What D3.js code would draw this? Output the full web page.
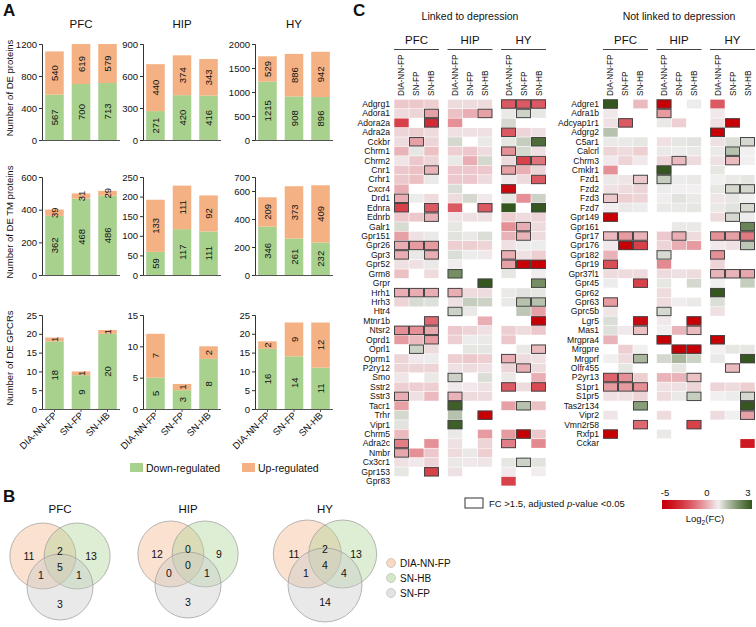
<!DOCTYPE html>
<html>
<head>
<meta charset="utf-8">
<script src="https://cdn.jsdelivr.net/npm/d3@7"></script>
<style>
  body { margin: 0; background: #fff; }
  text { font-family: Arial, "Liberation Sans", sans-serif; fill: #111; }
</style>
</head>
<body>
<svg id="fig" width="756" height="627"></svg>
<script>
// ---------- data: panel A ----------
var regions = ["PFC", "HIP", "HY"];
var methods = ["DIA-NN-FP", "SN-FP", "SN-HB"];
var rowTitles = ["Number of DE proteins", "Number of DE TM proteins", "Number of DE GPCRs"];

var protDown = [[567, 700, 713], [271, 420, 416], [1215, 908, 896]];
var protUp   = [[540, 619, 579], [440, 374, 343], [529, 886, 942]];
var tmDown   = [[362, 468, 486], [59, 117, 111], [346, 261, 232]];
var tmUp     = [[39, 31, 29], [133, 111, 92], [209, 373, 409]];
var gpcrDown = [[18, 9, 20], [5, 3, 8], [16, 14, 11]];
var gpcrUp   = [[1, 1, 1], [7, 1, 2], [2, 9, 12]];

var protTicks = [[0, 400, 800, 1200], [0, 300, 600, 900], [0, 500, 1000, 1500, 2000]];
var tmTicks   = [[0, 200, 400, 600], [0, 50, 100, 150, 200, 250], [0, 200, 400, 600, 700]];
var gpcrTicks = [[0, 5, 10, 15, 20, 25], [0, 5, 10, 15], [0, 5, 10, 15, 20, 25]];

// ---------- data: panel B (venn counts) ----------
// order: only A, A&B, only B, A&C, A&B&C, B&C, only C   (A=DIA-NN-FP, B=SN-HB, C=SN-FP)
var vennPFC = [11, 2, 13, 1, 5, 1, 3];
var vennHIP = [12, 0, 9, 0, 0, 1, 3];
var vennHY  = [11, 2, 13, 1, 4, 4, 14];
var vennSets = ["DIA-NN-FP", "SN-HB", "SN-FP"];

// ---------- data: panel C ----------
var linkedGenes = ["Adgrg1","Adora1","Adora2a","Adra2a","Cckbr","Chrm1","Chrm2","Cnr1","Crhr1","Cxcr4",
  "Drd1","Ednra","Ednrb","Galr1","Gpr151","Gpr26","Gpr3","Gpr52","Grm8","Grpr","Hrh1","Hrh3","Htr4",
  "Mtnr1b","Ntsr2","Oprd1","Oprl1","Oprm1","P2ry12","Smo","Sstr2","Sstr3","Tacr1","Trhr","Vipr1",
  "Chrm5","Adra2c","Nmbr","Cx3cr1","Gpr153","Gpr83"];
var linkedFC = [
  [-0.6,-0.6,-0.5, -0.3,-0.3,-0.3, -2.5,-2.5,-2.5],
  [-0.3,-0.4,-1.2, -0.7,-1.0,-1.2, 0.1,0.5,0.15],
  [-3,null,-3.5, -1.5,null,null, 0.4,null,null],
  [-0.4,-0.5,-0.3, -0.2,-0.2,-0.2, -2.5,-0.4,-0.2],
  [-0.3,-1.2,-0.4, 0.4,null,0.1, 0.15,0.6,2.5],
  [-0.9,0.15,-0.7, -0.5,-0.6,-0.3, -1.5,0.4,-0.2],
  [-0.15,-0.6,-0.4, 0.1,-1.0,0.4, -0.3,-3,-2],
  [-0.6,-0.7,-0.9, -0.6,-0.6,-0.6, -1.2,-1.0,-0.4],
  [-0.6,-0.7,0.1, -0.6,-0.6,-0.3, -0.1,-0.3,-2.5],
  [-1.0,null,null, 0.3,null,null, -4.5,null,null],
  [-1.0,0.05,-0.3, -0.3,0.4,-0.1, 0.15,-1.5,0.5],
  [-3,null,-2.5, -2.5,null,-2.5, 3,null,3],
  [-0.6,-0.6,-0.9, -0.15,-0.2,-0.2, -0.5,-0.3,-0.4],
  [0.35,null,null, 0.15,null,null, -1.5,-1.0,-0.3],
  [-1.2,-0.2,0.1, 0.2,0.1,0.3, -0.9,-0.9,-0.3],
  [-1.0,-1.3,-1.3, -0.5,-0.5,-0.4, -0.2,0.05,0.05],
  [-1.0,0.1,-1.0, 0.3,0.05,-0.1, -1.0,-0.2,-0.5],
  [-0.2,-0.2,0.1, -0.05,null,null, -1.2,-5,-5],
  [-0.7,null,-0.3, 1.8,null,null, 0.15,null,-0.05],
  [null,null,null, null,null,3, null,null,1.8],
  [-1.0,-1.0,-1.0, -1.0,-0.3,-0.3, 0.1,0.2,0.15],
  [-0.4,0.35,0.25, -0.2,0.6,0.5, 0.1,0.8,0.8],
  [null,null,null, 0.5,0.1,null, null,0.7,-1.2],
  [null,null,-2.2, null,null,-1.0, null,null,-5],
  [-1.5,-1.5,-1.1, -0.6,-0.4,-0.2, -0.5,-0.3,-0.6],
  [-1.3,-0.8,-1.3, -0.5,0.05,0.1, -0.6,null,null],
  [null,0.5,-0.3, null,0.15,0.15, null,0.1,-0.8],
  [-0.4,-0.1,0.05, -0.5,-0.6,-0.5, -1.0,-0.3,-0.2],
  [-0.4,-0.4,-0.4, -0.2,-0.3,-0.2, -0.4,-1.0,-0.3],
  [-0.15,null,0.1, 0.5,null,0.3, 0.1,null,-1.0],
  [-0.5,-0.5,-0.5, -0.1,-0.1,-0.2, -2.5,-0.3,-2.8],
  [-1.0,-0.2,-0.8, -0.9,-0.3,-0.3, null,null,null],
  [-1.2,null,null, 2.8,null,null, -1.2,0.8,-0.7],
  [0.4,null,null, 0.8,null,-5, null,null,null],
  [0.2,null,null, 2.8,null,null, null,null,null],
  [-0.8,null,null, 0.1,null,-1.3, -1.3,-5,-0.6],
  [-1.8,null,-1.5, -0.2,null,-0.4, -1.8,null,-1.6],
  [-1.1,-1.5,-0.6, -0.3,0.1,-0.5, null,null,null],
  [-0.2,-0.1,-0.4, 0.1,-0.1,-0.15, 0.15,0.5,0.2],
  [0.15,null,-3, -0.2,null,null, -0.1,null,-0.05],
  [null,null,null, null,null,null, -3,null,null]
];
var linkedSig = ["000000111","001001010","001000000","000000100","010000001","000000100","000000011",
  "001000100","000000001","000000100","100000000","101001001","001000000","000000010","000000010",
  "111000000","101000100","000000111","000100000","000001001","111100000","000000011","000100000",
  "001000001","111000000","001000000","010000001","000000100","000000010","000100000","000000101",
  "100100000","000100010","000001000","000100000","000000010","100000100","100000000","000000010",
  "001000000","000000000"];

var otherGenes = ["Adgre1","Adra1b","Adcyap1r1","Adgrg2","C5ar1","Calcrl","Chrm3","Cmklr1","Fzd1","Fzd2",
  "Fzd3","Fzd7","Gpr149","Gpr161","Gpr17","Gpr176","Gpr182","Gpr19","Gpr37l1","Gpr45","Gpr62","Gpr63",
  "Gprc5b","Lgr5","Mas1","Mrgpra4","Mrgpre","Mrgprf","Olfr455","P2yr13","S1pr1","S1pr5","Tas2r134",
  "Vipr2","Vmn2r58","Rxfp1","Cckar"];
var otherFC = [
  [3,null,-0.8, -5,null,0.05, -2.5,null,null],
  [-0.1,null,null, -1.3,null,null, -0.1,null,null],
  [-0.2,-2.5,null, 0.1,-0.5,null, -0.2,-5,null],
  [0.8,null,null, null,null,null, -5,null,null],
  [0.1,0.1,0.15, -0.2,0.15,0.2, -0.2,0.3,0.4],
  [-0.4,-0.3,-0.5, 0.1,0.05,0.1, 0.1,0.8,0],
  [-0.1,-0.4,-0.1, -0.4,-0.8,-0.3, -0.2,-0.8,0],
  [-1.5,null,null, 3,null,null, 0.15,null,null],
  [0.1,-0.15,-0.6, 0.6,0.05,0.1, 0,0.1,0.15],
  [-0.2,-0.3,-0.4, 0.05,0,0, 0.15,0.4,0.4],
  [-0.6,-0.5,-0.4, -0.05,0.2,0.1, -0.15,0.15,0],
  [0,0.1,0.05, 0.1,0.1,0.15, 0.1,0.2,0.35],
  [-5,null,null, null,null,null, -0.3,0.4,0.05],
  [null,null,null, null,0.1,0.1, null,null,2],
  [-0.8,-1.3,-0.9, -0.6,-1.0,-0.3, -1.5,-1.2,-1.9],
  [-0.1,-5,-3, -0.4,-1.0,-1.3, -0.1,-0.2,0.7],
  [-0.9,null,null, 0.35,null,null, -1.5,null,null],
  [-2.7,null,null, -1.6,null,null, -0.4,null,null],
  [-0.3,-0.3,-0.3, -0.3,-0.2,-0.3, -0.9,-0.9,-1.1],
  [0.05,null,-3, 0.15,null,0.4, 0,null,0.6],
  [null,null,null, -0.3,null,null, 3,null,null],
  [-1.3,null,null, -0.3,-0.05,0.1, 0.3,null,null],
  [-0.15,null,null, 0.4,null,null, -0.2,null,null],
  [0.3,null,-4.5, -0.1,null,-5, null,null,null],
  [0.25,-0.1,-0.7, 0,-0.9,-0.8, null,null,null],
  [-0.9,null,null, -5,null,null, -5,null,null],
  [null,-0.5,0, null,-5,-5, 0,0.15,0.15],
  [0,-0.3,1.0, 0.4,1.0,0.5, 0.1,null,3],
  [null,0.15,null, null,0.15,null, null,-0.8,null],
  [-2.3,-1.5,-0.5, -0.9,-0.9,-0.7, null,null,null],
  [-1.3,-1.3,-1.5, -0.2,-0.2,-0.4, -0.4,-0.3,-0.5],
  [-0.2,-0.2,-0.4, -0.3,0.1,0.6, 0,0.05,0.4],
  [null,null,1.5, null,null,null, null,null,3],
  [-0.15,null,null, -0.3,null,null, -0.3,0,-1.2],
  [null,null,-2.2, null,null,-3, null,null,null],
  [-5,null,null, 0.1,null,null, null,null,null],
  [null,null,null, null,null,null, null,null,-4]
];
var otherSig = ["100100000","000100000","010000010","000000100","000000001","000000010","000010010",
  "000100000","001100000","000000011","100000000","000000001","100000010","000000001","111010111",
  "011000001","000100100","100000000","000000111","001000000","000000100","100000000","000100000",
  "001001000","001001000","000100100","000011000","001000001","000000010","110001000","111000000",
  "000001001","001000001","000000001","001001000","100000000","000000000"];

var fcTicks = [-5, 0, 3];

// ---------- setup ----------
var svg = d3.select("#fig");
var green = "#a9d18e", orange = "#f4b183";

svg.append("text").attr("x", 3).attr("y", 16).attr("font-size", 17).attr("font-weight", "bold").text("A");
svg.append("text").attr("x", 3).attr("y", 502).attr("font-size", 17).attr("font-weight", "bold").text("B");
svg.append("text").attr("x", 353).attr("y", 16).attr("font-size", 17).attr("font-weight", "bold").text("C");

// ---------- panel A ----------
var rowsY = [[44, 140], [177, 275], [315, 409]];
var colsX = [42, 143, 255];
var downs = [protDown, tmDown, gpcrDown];
var ups = [protUp, tmUp, gpcrUp];
var ticks = [protTicks, tmTicks, gpcrTicks];

regions.forEach(function (r, c) {
    svg.append("text").attr("x", colsX[c] + 39).attr("y", 28)
        .attr("text-anchor", "middle").attr("font-size", 11.5).text(r);
});

for (var ri = 0; ri < 3; ri++) {
    var yr = rowsY[ri];
    svg.append("text")
        .attr("transform", "translate(13," + ((yr[0] + yr[1]) / 2 - 4) + ") rotate(-90)")
        .attr("text-anchor", "middle").attr("font-size", 9.5).text(rowTitles[ri]);
    for (var ci = 0; ci < 3; ci++) {
        var tk = ticks[ri][ci];
        var y = d3.scaleLinear().domain([0, tk[tk.length - 1]]).range([yr[1], yr[0]]).clamp(true);
        var x = d3.scaleBand().domain(methods).range([colsX[ci], colsX[ci] + 78])
            .paddingInner(0.3).paddingOuter(0.12);
        var g = svg.append("g");
        var dn = downs[ri][ci], up = ups[ri][ci];

        g.selectAll("rect.dn").data(methods).enter().append("rect")
            .attr("x", function (d) { return x(d); })
            .attr("width", x.bandwidth())
            .attr("y", function (d, i) { return y(dn[i]); })
            .attr("height", function (d, i) { return y(0) - y(dn[i]); })
            .attr("fill", green);
        g.selectAll("rect.up").data(methods).enter().append("rect")
            .attr("x", function (d) { return x(d); })
            .attr("width", x.bandwidth())
            .attr("y", function (d, i) { return y(dn[i] + up[i]); })
            .attr("height", function (d, i) { return y(dn[i]) - y(dn[i] + up[i]); })
            .attr("fill", orange);

        // value labels
        methods.forEach(function (m, i) {
            var cx = x(m) + x.bandwidth() / 2 + 3.5;
            var yd = (y(0) + y(dn[i])) / 2;
            var yu = (y(dn[i]) + y(dn[i] + up[i])) / 2;
            g.append("text").attr("transform", "translate(" + cx + "," + yd + ") rotate(-90)")
                .attr("text-anchor", "middle").attr("font-size", 9.5).text(dn[i]);
            g.append("text").attr("transform", "translate(" + cx + "," + yu + ") rotate(-90)")
                .attr("text-anchor", "middle").attr("font-size", 9.5).text(up[i]);
        });

        var ya = d3.axisLeft(y).tickValues(tk).tickSize(3).tickPadding(2).tickFormat(d3.format("d"));
        var ag = g.append("g").attr("transform", "translate(" + colsX[ci] + ",0)").call(ya);
        ag.selectAll("text").attr("font-size", 9.5).attr("fill", "#111");
        ag.selectAll("line,path").attr("stroke", "#333");
        g.append("line").attr("x1", colsX[ci]).attr("x2", colsX[ci] + 78)
            .attr("y1", yr[1] + 0.5).attr("y2", yr[1] + 0.5).attr("stroke", "#555");

        if (ri === 2) {
            methods.forEach(function (m) {
                var cx = x(m) + x.bandwidth() / 2;
                g.append("line").attr("x1", cx).attr("x2", cx).attr("y1", yr[1]).attr("y2", yr[1] + 3).attr("stroke", "#555");
                g.append("text").attr("transform", "translate(" + (cx + 3) + "," + (yr[1] + 7) + ") rotate(-45)")
                    .attr("text-anchor", "end").attr("font-size", 9.5).text(m);
            });
        }
    }
}

// legend A
var legA = [["Down-regulated", green, 130], ["Up-regulated", orange, 242]];
legA.forEach(function (l) {
    svg.append("rect").attr("x", l[2]).attr("y", 463).attr("width", 13).attr("height", 9).attr("fill", l[1]);
    svg.append("text").attr("x", l[2] + 16).attr("y", 471.5).attr("font-size", 10.5).text(l[0]);
});

// ---------- panel B ----------
var vennCols = ["#f4b183", "#a9d18e", "#c8c8c8"];
var vennData = [vennPFC, vennHIP, vennHY];
var vennPos = [
    { cx: 60, cy: 568, r: 33, title: "PFC" },
    { cx: 188, cy: 566, r: 33, title: "HIP" },
    { cx: 325, cy: 566, r: 34, title: "HY" }
];
vennPos.forEach(function (p, k) {
    var d = p.r * 0.52;
    var centers = [[p.cx - d, p.cy - 12], [p.cx + d, p.cy - 12], [p.cx, p.cy + 19]];
    var rr = [p.r, p.r, k === 2 ? p.r + 3 : p.r];
    var vg = svg.append("g");
    vg.selectAll("circle").data(centers).enter().append("circle")
        .attr("cx", function (c) { return c[0]; })
        .attr("cy", function (c) { return c[1]; })
        .attr("r", function (c, i) { return rr[i]; })
        .attr("fill", function (c, i) { return vennCols[i]; })
        .attr("fill-opacity", function (c, i) { return i === 2 ? 0.4 : 0.38; })
        .attr("stroke", "#999").attr("stroke-width", 0.7);
    svg.append("text").attr("x", p.cx).attr("y", 513).attr("text-anchor", "middle")
        .attr("font-size", 11.5).text(p.title);
    var v = vennData[k];
    var lp = [[p.cx - 31, p.cy - 12], [p.cx, p.cy - 17], [p.cx + 31, p.cy - 12],
              [p.cx - 19, p.cy + 7], [p.cx, p.cy - 1], [p.cx + 19, p.cy + 7], [p.cx, p.cy + 36]];
    lp.forEach(function (q, i) {
        svg.append("text").attr("x", q[0]).attr("y", q[1] + 4).attr("text-anchor", "middle")
            .attr("font-size", 10.5).text(v[i]);
    });
});
vennSets.forEach(function (s, i) {
    svg.append("circle").attr("cx", 391).attr("cy", 563 + i * 15).attr("r", 4.5)
        .attr("fill", vennCols[i]).attr("fill-opacity", 0.5).attr("stroke", "#aaa").attr("stroke-width", 0.5);
    svg.append("text").attr("x", 400).attr("y", 567 + i * 15).attr("font-size", 10).text(s);
});

// ---------- panel C ----------
var color = d3.scaleLinear().domain([-5, 0, 3]).range(["#c60005", "#f1eff0", "#35561f"])
    .interpolate(d3.interpolateRgb.gamma(0.7));
var rowTop = 99.3, rowH = 9.43;

function drawHeat(genes, fc, sig, x0, labelX, title) {
    var gBand = d3.scaleBand().domain(regions).range([x0, x0 + 152]).paddingInner(0.16);
    var cBand = d3.scaleBand().domain(methods).range([0, gBand.bandwidth()]);
    var yb = d3.scaleBand().domain(genes).range([rowTop, rowTop + rowH * genes.length]);
    var g = svg.append("g");

    g.append("text").attr("x", x0 + 76).attr("y", 20).attr("text-anchor", "middle")
        .attr("font-size", 10.5).text(title);

    regions.forEach(function (r) {
        var gx = gBand(r);
        g.append("text").attr("x", gx + gBand.bandwidth() / 2).attr("y", 44).attr("text-anchor", "middle")
            .attr("font-size", 11.5).text(r);
        g.append("line").attr("x1", gx).attr("x2", gx + gBand.bandwidth())
            .attr("y1", 49.5).attr("y2", 49.5).attr("stroke", "#444").attr("stroke-width", 1);
        methods.forEach(function (m) {
            var cx = gx + cBand(m) + cBand.bandwidth() / 2 + 3;
            g.append("text").attr("transform", "translate(" + cx + ",96) rotate(-90)")
                .attr("font-size", 8.2).text(m);
        });
    });

    var cells = [];
    genes.forEach(function (gn, i) {
        fc[i].forEach(function (v, j) {
            if (v === null) return;
            cells.push({ gene: gn, reg: regions[Math.floor(j / 3)], met: methods[j % 3], v: v, s: sig[i][j] === "1" });
        });
    });
    g.selectAll("rect.cell").data(cells).enter().append("rect")
        .attr("x", function (d) { return gBand(d.reg) + cBand(d.met) + 0.3; })
        .attr("y", function (d) { return yb(d.gene) + 0.3; })
        .attr("width", cBand.bandwidth() - 0.6)
        .attr("height", yb.bandwidth() - 0.6)
        .attr("fill", function (d) { return color(d.v); });
    g.selectAll("rect.box").data(cells.filter(function (d) { return d.s; })).enter().append("rect")
        .attr("x", function (d) { return gBand(d.reg) + cBand(d.met) + 0.5; })
        .attr("y", function (d) { return yb(d.gene) + 0.5; })
        .attr("width", cBand.bandwidth() - 1)
        .attr("height", yb.bandwidth() - 1)
        .attr("fill", "none").attr("stroke", "#444").attr("stroke-width", 1);

    g.selectAll("text.gene").data(genes).enter().append("text")
        .attr("x", labelX).attr("y", function (d) { return yb(d) + yb.bandwidth() / 2 + 3; })
        .attr("text-anchor", "end").attr("font-size", 8.6).text(function (d) { return d; });
}
drawHeat(linkedGenes, linkedFC, linkedSig, 394, 390, "Linked to depression");
drawHeat(otherGenes, otherFC, otherSig, 603, 599, "Not linked to depression");

// legend C
svg.append("rect").attr("x", 465).attr("y", 498).attr("width", 18).attr("height", 10)
    .attr("fill", "none").attr("stroke", "#333").attr("stroke-width", 1);
var lt = svg.append("text").attr("x", 489).attr("y", 507).attr("font-size", 9.5);
lt.append("tspan").text("FC >1.5, adjusted ");
lt.append("tspan").attr("font-style", "italic").text("p");
lt.append("tspan").text("-value <0.05");

var defs = svg.append("defs");
var grad = defs.append("linearGradient").attr("id", "fcgrad");
d3.range(-5, 3.01, 0.5).forEach(function (v) {
    grad.append("stop").attr("offset", ((v + 5) / 8 * 100) + "%").attr("stop-color", color(v));
});
svg.append("rect").attr("x", 662).attr("y", 500).attr("width", 90).attr("height", 9).attr("fill", "url(#fcgrad)");
var lxs = d3.scaleLinear().domain([-5, 0, 3]).range([662, 707, 752]);
fcTicks.forEach(function (t) {
    svg.append("text").attr("x", lxs(t) + (t === -5 ? 3 : t === 3 ? -4 : 0)).attr("y", 496)
        .attr("text-anchor", "middle").attr("font-size", 9.5).text(t);
});
var lg = svg.append("text").attr("x", 705).attr("y", 522).attr("text-anchor", "middle").attr("font-size", 9.5);
lg.append("tspan").text("Log");
lg.append("tspan").attr("font-size", 6.5).attr("dy", 2.5).text("2");
lg.append("tspan").attr("dy", -2.5).text("(FC)");
</script>
</body>
</html>
